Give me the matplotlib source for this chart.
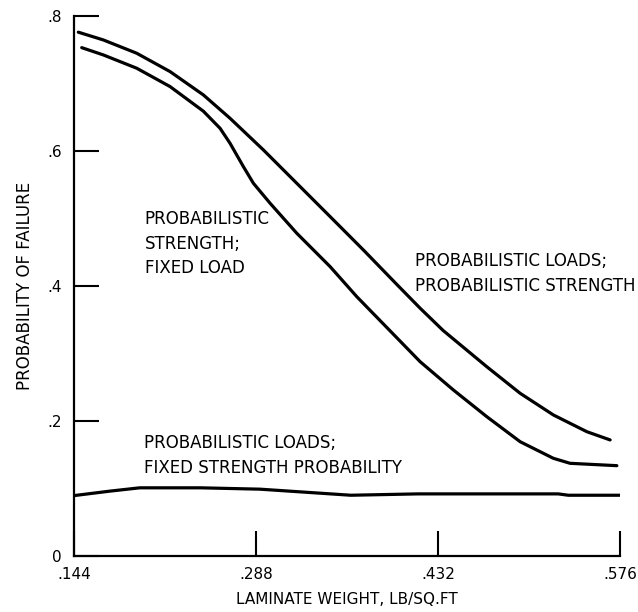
import matplotlib
matplotlib.use("Agg")
import matplotlib.pyplot as plt

plt.rcParams['font.family'] = ['DejaVu Sans']

# data
x_ticks = [.144, .288, .432, .576]
x_tick_labels = ['.144', '.288', '.432', '.576']
y_ticks = [0, .2, .4, .6, .8]
y_tick_labels = ['0', '.2', '.4', '.6', '.8']

# probabilistic loads; probabilistic strength
w_both = [.1474, .1672, .1936, .2200, .2463, .2674, .2938, .3202, .3466, .3729,
          .4000, .4178, .4360, .4705, .4969, .5232, .5497, .5681]
p_both = [.7759, .7644, .7447, .7175, .6830, .6484, .6015, .5521, .5027, .4533,
          .4010, .3670, .3340, .2804, .2410, .2089, .1841, .1719]

# probabilistic strength; fixed load
w_strength = [.1501, .1672, .1936, .2200, .2463, .2595, .2674, .2780, .2859,
              .2991, .3202, .3466, .3677, .4178, .4441, .4705, .4969, .5232, .5364, .5734]
p_strength = [.7530, .7422, .7225, .6953, .6589, .6336, .6114, .5767, .5521,
              .5225, .4781, .4286, .3841, .2878, .2459, .2064, .1693, .1447, .1373, .1338]

# probabilistic loads; fixed strength probability
w_loads = [.142, .172, .196, .244, .291, .339, .363, .416, .527, .535, .579]
p_loads = [.089, .096, .101, .101, .099, .093, .090, .092, .092, .090, .090]

fig = plt.figure(figsize=(6.38, 6.12), dpi=100)
ax = fig.add_axes([0.116, 0.0915, 0.856, 0.8825])

lw = 2.3
for w, p in [(w_both, p_both), (w_strength, p_strength), (w_loads, p_loads)]:
    ax.plot(w, p, color='black', lw=lw, solid_capstyle='round', solid_joinstyle='round')

ax.set_xlim(.144, .576)
ax.set_ylim(0, .8)
ax.spines['top'].set_visible(False)
ax.spines['right'].set_visible(False)
ax.spines['left'].set_linewidth(1.6)
ax.spines['bottom'].set_linewidth(1.6)

ax.set_xticks(x_ticks)
ax.set_xticklabels(x_tick_labels)
ax.set_yticks(y_ticks)
ax.set_yticklabels(y_tick_labels)
ax.tick_params(axis='both', direction='in', length=18, width=1.5, labelsize=11)
ax.tick_params(axis='y', pad=9)
ax.tick_params(axis='x', pad=8)

ax.set_xlabel('LAMINATE WEIGHT, LB/SQ.FT', fontsize=11, labelpad=7)
ax.set_ylabel('PROBABILITY OF FAILURE', fontsize=12, labelpad=9)

txt = dict(fontsize=12, color='black', linespacing=1.45, va='top', ha='left')
ax.text(.200, .512, 'PROBABILISTIC\nSTRENGTH;\nFIXED LOAD', **txt)
ax.text(.414, .450, 'PROBABILISTIC LOADS;\nPROBABILISTIC STRENGTH', **txt)
ax.text(.199, .180, 'PROBABILISTIC LOADS;\nFIXED STRENGTH PROBABILITY', **txt)

fig.savefig('out.png', dpi=100)
